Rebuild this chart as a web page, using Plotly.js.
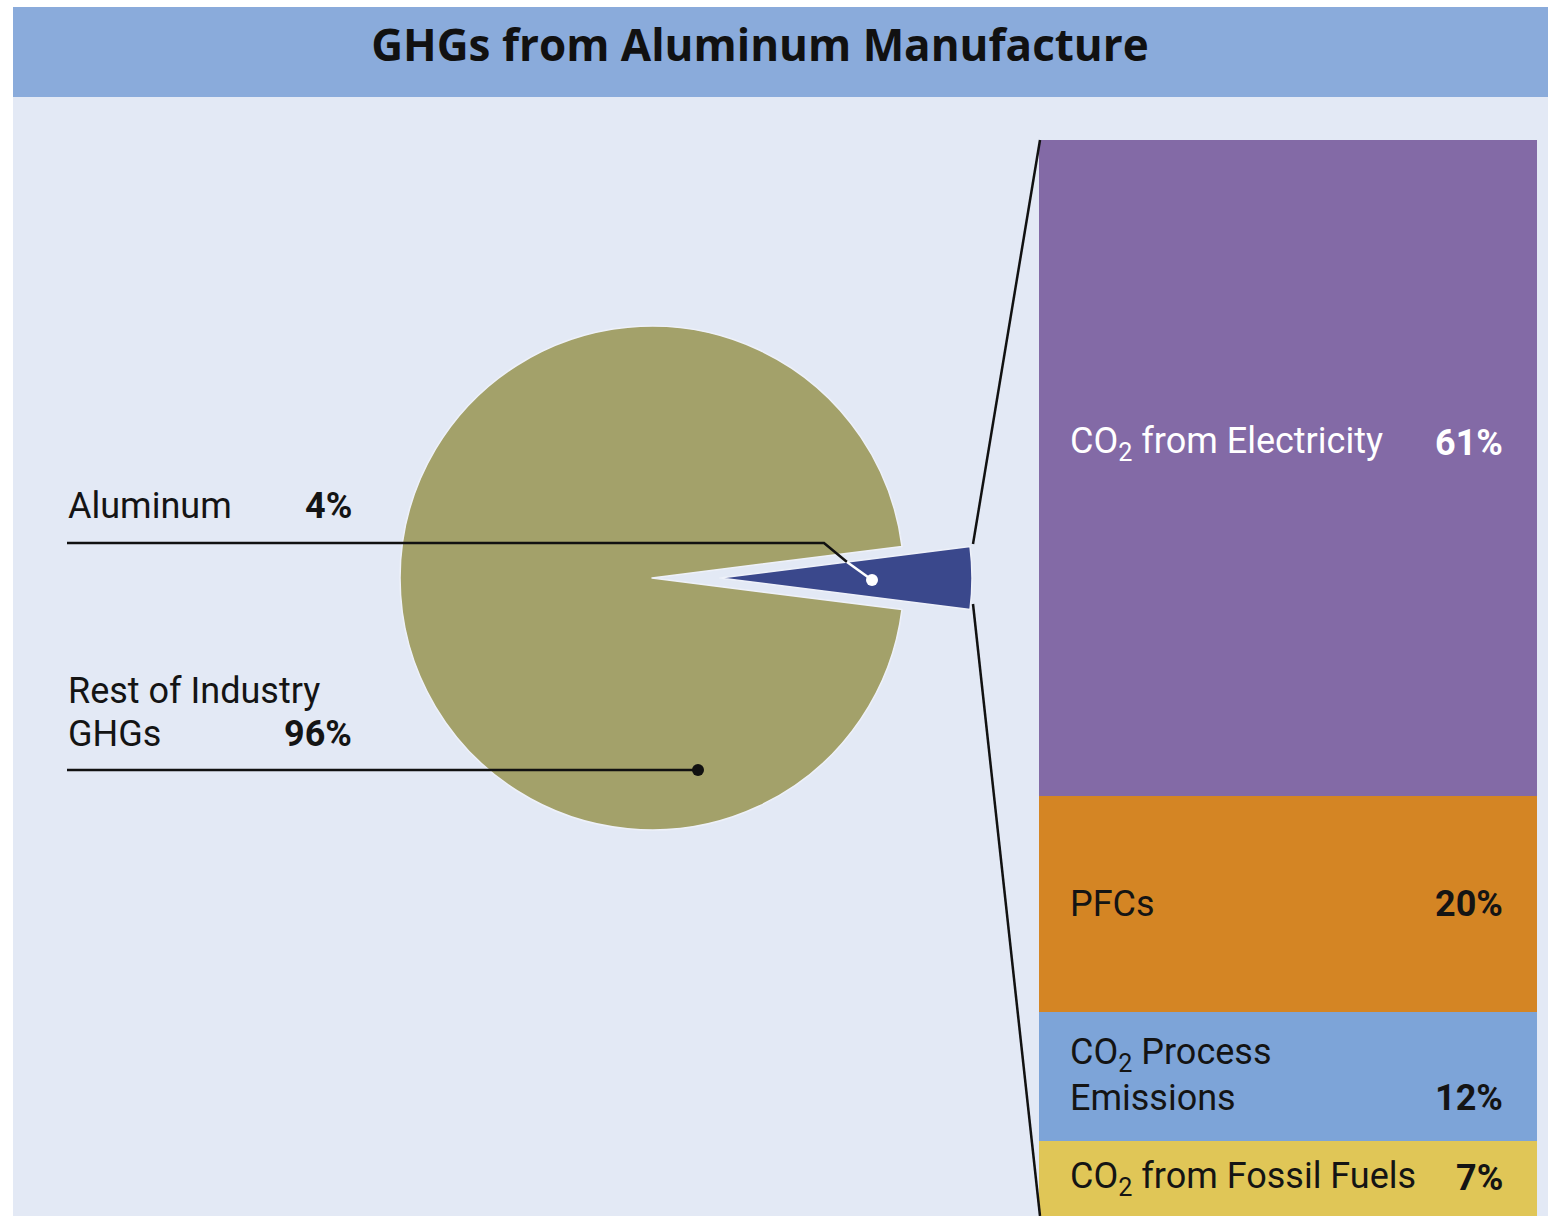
<!DOCTYPE html>
<html>
<head>
<meta charset="utf-8">
<script src="https://cdn.plot.ly/plotly-3.0.1.min.js"></script>
<style>html,body{margin:0;padding:0;background:#fff;}#chart{width:1548px;height:1216px;}</style>
</head>
<body>
<div id="chart"></div>
<script>
// ---- data ----
const pieLabels = ["Aluminum", "Rest of Industry<br>GHGs"];
const pieValues = [4, 96];
const pieColors = ["#3a488c", "#a3a16a"];

const barCategories = ["CO<sub>2</sub> from Electricity", "PFCs", "CO<sub>2</sub> Process<br>Emissions", "CO<sub>2</sub> from Fossil Fuels"];
const barValues = [61, 20, 12, 7];
const barColors = ["#836aa6", "#d48524", "#7da4d8", "#e0c657"];
const barTextColors = ["#ffffff", "#141414", "#141414", "#141414"];
const pctLabels = ["61%", "20%", "12%", "7%"];

const title = "GHGs from Aluminum Manufacture";

// ---- traces ----
const W = 1548, H = 1216;
const px = v => v / W, py = v => 1 - v / H;
const LINE = 43; // line spacing of multi-line labels, px

const traces = [];
traces.push({
  type: "pie",
  labels: pieLabels.map(s => s.replace("<br>", " ")),
  values: pieValues,
  sort: false,
  direction: "clockwise",
  rotation: 90 - pieValues[0] / 100 * 360 / 2,
  pull: [0.27, 0],
  marker: {colors: pieColors, line: {color: "#eef1f9", width: 1.5}},
  textinfo: "none",
  hoverinfo: "label+percent",
  showlegend: false,
  domain: {x: [px(332), px(972)], y: [py(898), py(258)]}
});

// stacked bar: bottom segment first
for (let i = barValues.length - 1; i >= 0; i--) {
  traces.push({
    type: "bar",
    x: [0],
    y: [barValues[i]],
    width: 1,
    marker: {color: barColors[i], line: {width: 0}},
    name: barCategories[i].replace("<br>", " "),
    showlegend: false,
    hoverinfo: "name+y",
    xaxis: "x",
    yaxis: "y"
  });
}

// ---- annotations ----
const labelFont = "Roboto, 'Open Sans', sans-serif";
const annotations = [];
function addLines(text, xref, x, yref, y, baseShift, color) {
  const lines = text.split("<br>");
  const n = lines.length;
  lines.forEach((ln, k) => {
    annotations.push({
      xref: xref, yref: yref, x: x, y: y, yshift: baseShift + ((n - 1) / 2 - k) * LINE,
      xanchor: "left", yanchor: "middle", align: "left", showarrow: false,
      text: ln, font: {family: labelFont, size: 36, color: color}
    });
  });
}
let cum = 0;
const mids = [];
for (let i = barValues.length - 1; i >= 0; i--) {
  mids[i] = cum + barValues[i] / 2;
  cum += barValues[i];
}
const catShift = [25, 0, 0, 0];
const pctShift = [25, 0, -21.5, 0];
for (let i = 0; i < barValues.length; i++) {
  addLines(barCategories[i], "paper", px(1068), "y", mids[i], catShift[i], barTextColors[i]);
  annotations.push({
    xref: "paper", yref: "y", x: px(1505), y: mids[i], yshift: pctShift[i],
    xanchor: "right", yanchor: "middle", align: "right", showarrow: false,
    text: "<b>" + pctLabels[i] + "</b>",
    font: {family: labelFont, size: 36, color: barTextColors[i]}
  });
}
// pie labels
addLines(pieLabels[0], "paper", px(66), "paper", py(506), 0, "#141414");
annotations.push({xref: "paper", yref: "paper", x: px(354), y: py(506), xanchor: "right", yanchor: "middle",
  showarrow: false, text: "<b>" + pieValues[0] + "%</b>", font: {family: labelFont, size: 36, color: "#141414"}});
addLines(pieLabels[1], "paper", px(66), "paper", py(712), 0, "#141414");
annotations.push({xref: "paper", yref: "paper", x: px(354), y: py(734), xanchor: "right", yanchor: "middle",
  showarrow: false, text: "<b>" + pieValues[1] + "%</b>", font: {family: labelFont, size: 36, color: "#141414"}});

// ---- shapes (decoration) ----
const shapes = [
  {type: "rect", xref: "paper", yref: "paper", x0: px(13), x1: 1, y0: 0, y1: py(97), fillcolor: "#e3e9f5", line: {width: 0}, layer: "below"},
  {type: "rect", xref: "paper", yref: "paper", x0: px(13), x1: 1, y0: py(97), y1: py(7), fillcolor: "#8aabdb", line: {width: 0}, layer: "below"},
  // connector lines
  {type: "line", xref: "paper", yref: "paper", x0: px(973), y0: py(544), x1: px(1040), y1: py(140), line: {color: "#111", width: 2.5}, layer: "above"},
  {type: "line", xref: "paper", yref: "paper", x0: px(973), y0: py(604), x1: px(1040), y1: py(1216), line: {color: "#111", width: 2.5}, layer: "above"},
  // aluminum leader
  {type: "path", xref: "paper", yref: "paper", path: `M ${px(67)},${py(543)} L ${px(824)},${py(543)} L ${px(847)},${py(562)}`, line: {color: "#111", width: 2.5}, layer: "above"},
  {type: "line", xref: "paper", yref: "paper", x0: px(847), y0: py(562), x1: px(872), y1: py(580), line: {color: "#ffffff", width: 2.5}, layer: "above"},
  {type: "circle", xref: "paper", yref: "paper", x0: px(866), x1: px(878), y0: py(586), y1: py(574), fillcolor: "#ffffff", line: {width: 0}, layer: "above"},
  // rest leader
  {type: "line", xref: "paper", yref: "paper", x0: px(67), y0: py(770), x1: px(698), y1: py(770), line: {color: "#111", width: 2.5}, layer: "above"},
  {type: "circle", xref: "paper", yref: "paper", x0: px(692), x1: px(704), y0: py(776), y1: py(764), fillcolor: "#111", line: {width: 0}, layer: "above"}
];

const layout = {
  width: W, height: H,
  margin: {l: 0, r: 0, t: 0, b: 0},
  paper_bgcolor: "#ffffff",
  plot_bgcolor: "rgba(0,0,0,0)",
  title: {text: "<b>" + title + "</b>", x: px(760), xanchor: "center", xref: "paper", y: py(46), yref: "container", yanchor: "middle",
    font: {family: "'Open Sans', sans-serif", size: 44, color: "#111"}},
  barmode: "stack",
  bargap: 0,
  xaxis: {domain: [px(1039), px(1537)], range: [-0.5, 0.5], visible: false, fixedrange: true},
  yaxis: {domain: [0, py(140)], range: [0, 100], visible: false, fixedrange: true},
  showlegend: false,
  annotations: annotations,
  shapes: shapes
};

Plotly.newPlot("chart", traces, layout, {displayModeBar: false, staticPlot: true});
</script>
</body>
</html>
